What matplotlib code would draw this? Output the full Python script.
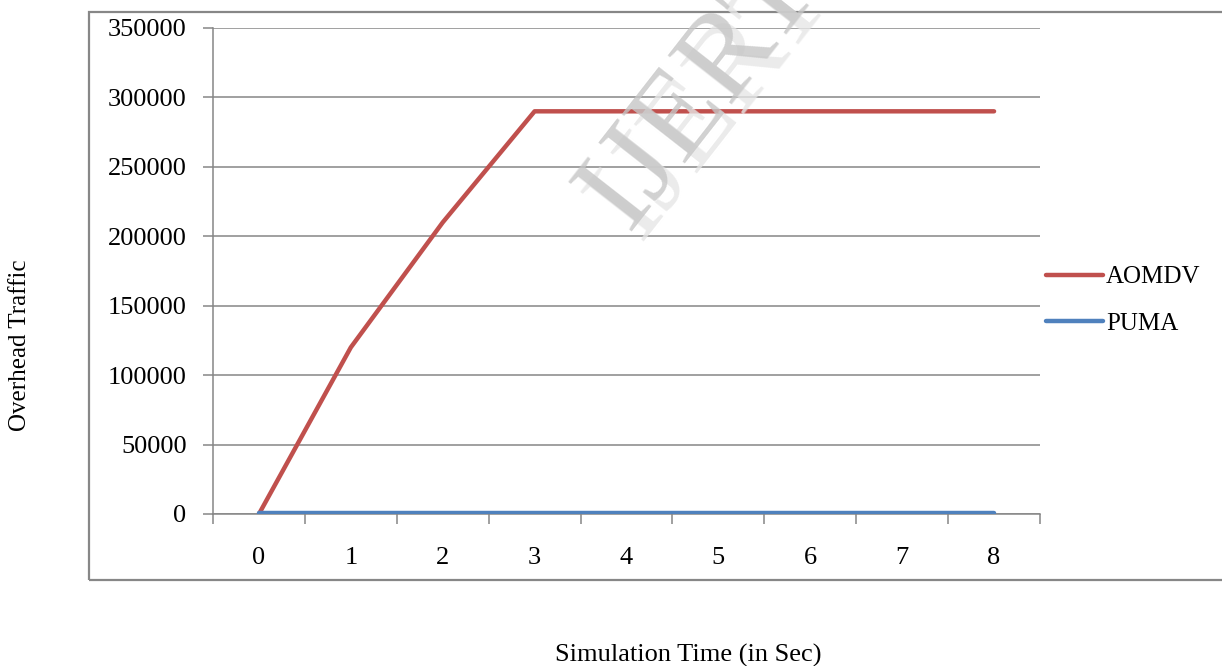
import numpy as np
import matplotlib.pyplot as plt
from matplotlib.patches import Rectangle

# data
times = [0, 1, 2, 3, 4, 5, 6, 7, 8]
aomdv = [0, 120000, 210000, 290000, 290000, 290000, 290000, 290000, 290000]
puma = [500, 500, 500, 500, 500, 500, 500, 500, 500]
y_ticks = [0, 50000, 100000, 150000, 200000, 250000, 300000, 350000]

plt.rcParams['font.family'] = ['Liberation Serif', 'DejaVu Serif']

W, H = 1222, 666
fig = plt.figure(figsize=(W / 100, H / 100), dpi=100)

# outer chart frame (Excel style), runs off the right edge
fig.patches.append(Rectangle((89 / W, 1 - 580 / H), 1.2, (580 - 12) / H,
                             transform=fig.transFigure, fill=False,
                             ec='#878787', lw=1.6, zorder=0))

ax = fig.add_axes([213 / W, 1 - 514 / H, (1040 - 213) / W, (514 - 28) / H])
grid_c = '#868686'
fs = 19

x = np.arange(len(times))
ax.plot(x, aomdv, color='#C0504D', lw=3.2, label='AOMDV', solid_capstyle='round', zorder=3)
ax.plot(x, puma, color='#4F81BD', lw=3.2, label='PUMA', solid_capstyle='round', zorder=3)

ax.set_xlim(-0.5, len(times) - 0.5)
ax.set_ylim(0, 350000)
ax.set_yticks(y_ticks)
ax.set_yticklabels([str(v) for v in y_ticks], fontsize=fs)
ax.yaxis.grid(True, color=grid_c, lw=1.1)
ax.set_axisbelow(True)

ax.set_xticks(x)
ax.set_xticklabels([str(t) for t in times], fontsize=fs)
ax.set_xticks(np.arange(-0.5, len(times), 1.0), minor=True)
ax.tick_params(axis='x', which='major', length=0, pad=24)
ax.tick_params(axis='x', which='minor', length=7, color=grid_c, width=1.1)
ax.tick_params(axis='y', length=7, color=grid_c, width=1.1, pad=12)

for s in ['top', 'right']:
    ax.spines[s].set_visible(False)
for s in ['left', 'bottom']:
    ax.spines[s].set_color(grid_c)
    ax.spines[s].set_linewidth(1.1)

leg = ax.legend(loc='center left', bbox_to_anchor=(0.995, 0.44), frameon=False,
                fontsize=fs - 1, handlelength=2.3, handletextpad=0.1,
                labelspacing=0.95, borderaxespad=0.0)

fig.text(688 / W, 1 - 655 / H, 'Simulation Time (in Sec)', ha='center', va='center', fontsize=fs)
fig.text(20 / W, 1 - 345 / H, 'Overhead Traffic', ha='center', va='center',
         rotation=90, fontsize=fs - 1)

# watermark (light shadow copy + main copy)
fig.text(712 / W, 1 - 100 / H, 'IJERT', ha='center', va='center', rotation=52,
         fontsize=88, color='#e6e6e6', alpha=0.8, zorder=4)
fig.text(700 / W, 1 - 90 / H, 'IJERT', ha='center', va='center', rotation=52,
         fontsize=88, color='#c6c6c6', alpha=0.8, zorder=4)

fig.savefig('out.png', dpi=100)
